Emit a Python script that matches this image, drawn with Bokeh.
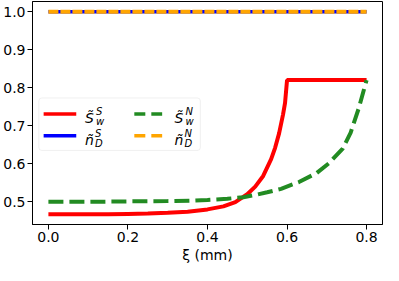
from bokeh.plotting import figure
from bokeh.models import Range1d, FixedTicker, PrintfTickFormatter, Label, BoxAnnotation
from bokeh.embed import file_html
from bokeh.resources import INLINE

# ---- data ----
xi_sw_s = [0.00, 0.05, 0.10, 0.15, 0.20, 0.25, 0.30, 0.35, 0.40, 0.44, 0.47, 0.50,
           0.52, 0.54, 0.56, 0.57, 0.58, 0.59, 0.595, 0.60, 0.70, 0.80]
sw_s = [0.467, 0.467, 0.467, 0.467, 0.468, 0.469, 0.471, 0.474, 0.480, 0.488, 0.499, 0.520,
        0.540, 0.568, 0.612, 0.642, 0.680, 0.730, 0.760, 0.820, 0.820, 0.820]

xi_sw_n = [0.00, 0.10, 0.20, 0.30, 0.36, 0.40, 0.45, 0.49, 0.52, 0.55, 0.585, 0.63,
           0.675, 0.705, 0.74, 0.76, 0.78, 0.80]
sw_n = [0.500, 0.500, 0.501, 0.502, 0.503, 0.505, 0.508, 0.512, 0.518, 0.525, 0.534, 0.552,
        0.576, 0.601, 0.640, 0.682, 0.745, 0.820]

xi_nd = [0.0, 0.1, 0.2, 0.3, 0.4, 0.5, 0.6, 0.7, 0.8]
nd_s = [1.0, 1.0, 1.0, 1.0, 1.0, 1.0, 1.0, 1.0, 1.0]
nd_n = [1.0, 1.0, 1.0, 1.0, 1.0, 1.0, 1.0, 1.0, 1.0]

x_ticks = [0.0, 0.2, 0.4, 0.6, 0.8]
y_ticks = [0.5, 0.6, 0.7, 0.8, 0.9, 1.0]
x_label = "ξ (mm)"

FONT = "DejaVu Sans"

p = figure(width=383, height=265,
           x_range=Range1d(-0.04, 0.84), y_range=Range1d(0.4403, 1.0267),
           output_backend="svg", toolbar_location=None,
           min_border_left=31, min_border_right=1, min_border_top=1, min_border_bottom=40)
p.grid.visible = False
p.outline_line_color = "black"
p.outline_line_alpha = 1
p.outline_line_width = 1
p.background_fill_color = "white"
p.border_fill_color = "white"

p.xaxis.ticker = FixedTicker(ticks=x_ticks)
p.yaxis.ticker = FixedTicker(ticks=y_ticks)
p.xaxis.formatter = PrintfTickFormatter(format="%.1f")
p.yaxis.formatter = PrintfTickFormatter(format="%.1f")
for ax in (p.xaxis, p.yaxis):
    ax.axis_line_color = "black"
    ax.major_tick_line_color = "black"
    ax.minor_tick_line_color = None
    ax.major_tick_out = 5
    ax.major_tick_in = 0
    ax.major_label_text_font = FONT
    ax.major_label_text_font_size = "14px"
    ax.major_label_text_color = "black"
    ax.major_label_standoff = 2

p.xaxis.axis_label = x_label
p.xaxis.axis_label_text_font = FONT
p.xaxis.axis_label_text_font_size = "14px"
p.xaxis.axis_label_text_font_style = "normal"
p.xaxis.axis_label_text_color = "black"
p.xaxis.axis_label_standoff = 2

# ---- data lines ----
p.line(xi_sw_s, sw_s, line_color="red", line_width=4)
p.line(xi_nd, nd_s, line_color="blue", line_width=3.5)
p.line(xi_sw_n, sw_n, line_color="forestgreen", line_width=4, line_dash="15 6")
p.line(xi_nd, nd_n, line_color="orange", line_width=4, line_dash="10 2")

# ---- legend (drawn by hand for the math labels) ----
leg_box = BoxAnnotation(left=-0.024, right=0.382, top=0.773, bottom=0.635,
                        fill_color="white", fill_alpha=0.8, line_color="#cccccc",
                        line_width=1, border_radius=3, level="annotation")
p.add_layout(leg_box)

row_y = [0.731, 0.674]
col_sw = [(-0.012, 0.070), (0.216, 0.286)]
col_tx = [0.092, 0.317]
entries = [
    (0, 0, "red", None, "S\u0303", "S", "w"),
    (0, 1, "blue", None, "\u00f1", "S", "D"),
    (1, 0, "forestgreen", "11 6", "S\u0303", "N", "w"),
    (1, 1, "orange", "11 6", "\u00f1", "N", "D"),
]
for col, row, color, dash, base, sup, sub in entries:
    x0, x1 = col_sw[col]
    kw = dict(line_color=color, line_width=3.5, level="overlay")
    if dash:
        kw["line_dash"] = dash
    p.segment(x0=[x0], y0=[row_y[row]], x1=[x1], y1=[row_y[row]], **kw)
    bx = col_tx[col]
    p.add_layout(Label(x=bx, y=row_y[row], y_offset=-4, text=base, text_font=FONT,
                       text_font_style="italic", text_font_size="14px",
                       text_baseline="alphabetic", text_color="black", level="overlay"))
    sx_off = 11 if base.startswith("S") else 10
    p.add_layout(Label(x=bx, y=row_y[row], x_offset=sx_off, y_offset=2.5, text=sup,
                       text_font=FONT, text_font_style="italic", text_font_size="10px",
                       text_baseline="alphabetic", text_color="black", level="overlay"))
    p.add_layout(Label(x=bx, y=row_y[row], x_offset=sx_off, y_offset=-7.5, text=sub,
                       text_font=FONT, text_font_style="italic", text_font_size="10px",
                       text_baseline="alphabetic", text_color="black", level="overlay"))

open("out.html", "w").write(file_html(p, INLINE))
